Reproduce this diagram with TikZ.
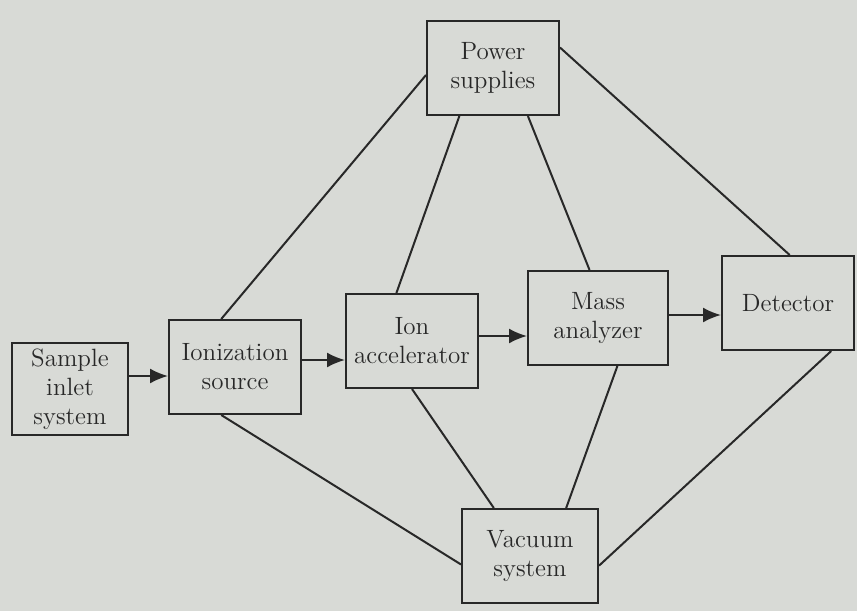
\documentclass[tikz,border=0pt]{standalone}
\usetikzlibrary{arrows.meta}
\definecolor{paper}{RGB}{216,218,214}
\definecolor{ink}{RGB}{40,40,40}
\begin{document}
\begin{tikzpicture}[x=0.5pt,y=-0.5pt,
  box/.style={draw=ink,line width=1pt,fill=paper,minimum width=66pt,minimum height=47pt,
    align=center,font=\fontsize{12.5}{14.5}\selectfont,text=ink,inner sep=2pt},
  link/.style={draw=ink,line width=1pt},
  flow/.style={link,-{Latex[length=9pt,width=7.5pt]}}]
\fill[paper] (0,0) rectangle (857,611);
\useasboundingbox (0,0) rectangle (857,611);
% boxes
\node[box,minimum width=58pt,minimum height=46pt] (smp) at (70,389) {Sample\\inlet\\system};
\node[box] (src) at (235,367) {Ionization\\source};
\node[box] (acc) at (412,341) {Ion\\accelerator};
\node[box,minimum width=70pt] (mas) at (598,318) {Mass\\analyzer};
\node[box] (det) at (788,303) {Detector};
\node[box] (pow) at (493,68) {Power\\supplies};
\node[box,minimum width=68pt] (vac) at (530,556) {Vacuum\\system};
% flow arrows
\coordinate (y1) at (0,376);
\coordinate (y2) at (0,360);
\coordinate (y3) at (0,336);
\coordinate (y4) at (0,315);
\draw[flow] (smp.east |- y1) -- (src.west |- y1);
\draw[flow] (src.east |- y2) -- (acc.west |- y2);
\draw[flow] (acc.east |- y3) -- (mas.west |- y3);
\draw[flow] (mas.east |- y4) -- (det.west |- y4);
% power supply links
\draw[link] (pow.186) -- (src.106);
\draw[link] (pow.235) -- (acc.108);
\draw[link] (pow.306) -- (mas.100);
\draw[link] (pow.17) -- (det.88);
% vacuum links
\draw[link] (src.254) -- (vac.187);
\draw[link] (acc.270) -- (vac.127);
\draw[link] (mas.292) -- (vac.53);
\draw[link] (det.312) -- (vac.352);
\end{tikzpicture}
\end{document}
